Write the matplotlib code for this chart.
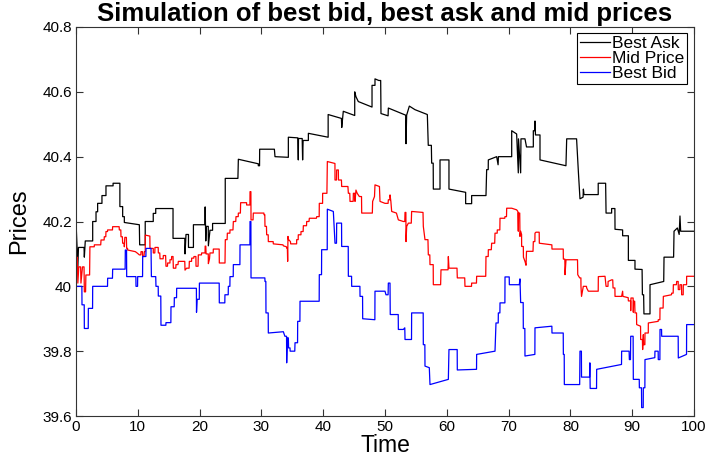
import numpy as np
import matplotlib
matplotlib.use("Agg")
import matplotlib.pyplot as plt
from matplotlib.ticker import FuncFormatter

plt.rcParams["font.family"] = ["Liberation Sans", "DejaVu Sans"]

# (time, price) vertices
best_ask = [
    (0.0, 40.20), (0.3, 40.06), (0.4, 40.12), (1.3, 40.12), (1.35, 40.09), (1.5, 40.14),
    (2.7, 40.14), (2.7, 40.20), (3.24, 40.20), (3.24, 40.23), (3.5, 40.23), (3.5, 40.256),
    (4.2, 40.256), (4.2, 40.28), (4.85, 40.28), (4.85, 40.31), (6.0, 40.31), (6.0, 40.318),
    (7.1, 40.318), (7.1, 40.246), (7.55, 40.246), (7.55, 40.215), (7.82, 40.215), (7.82, 40.197),
    (10.25, 40.19), (10.3, 40.128), (11.2, 40.128), (11.2, 40.20), (12.5, 40.20), (12.5, 40.225),
    (12.9, 40.225), (12.9, 40.24), (15.7, 40.24), (15.7, 40.148), (17.6, 40.148), (17.64, 40.10),
    (17.8, 40.16), (18.2, 40.16), (18.2, 40.12), (19.0, 40.12), (19.0, 40.19), (20.85, 40.19),
    (20.9, 40.245), (21.0, 40.14), (21.1, 40.185), (21.4, 40.185), (21.42, 40.125), (21.68, 40.173),
    (22.1, 40.173), (22.1, 40.194), (24.15, 40.194), (24.15, 40.333), (26.2, 40.333), (26.27, 40.392),
    (29.5, 40.378), (29.5, 40.372), (29.7, 40.372), (29.72, 40.423), (32.1, 40.423), (32.2, 40.40),
    (34.36, 40.398), (34.36, 40.46), (35.9, 40.458), (35.97, 40.39), (36.0, 40.456), (36.6, 40.456),
    (36.67, 40.39), (36.75, 40.45), (37.6, 40.45), (37.6, 40.472), (40.8, 40.46), (40.8, 40.53),
    (42.95, 40.518), (43.0, 40.49), (43.25, 40.54), (45.1, 40.527), (45.1, 40.60), (45.3, 40.585),
    (45.68, 40.57), (47.9, 40.553), (47.9, 40.62), (48.38, 40.62), (48.38, 40.64), (49.0, 40.635),
    (49.3, 40.635), (49.35, 40.533), (50.5, 40.526), (50.54, 40.55), (53.35, 40.528), (53.4, 40.44),
    (53.5, 40.528), (53.94, 40.556), (54.85, 40.545), (56.85, 40.53), (57.0, 40.435), (57.5, 40.435),
    (57.55, 40.38), (57.8, 40.38), (57.82, 40.30), (58.9, 40.30), (58.9, 40.39), (60.35, 40.39),
    (60.35, 40.30), (63.05, 40.29), (63.05, 40.255), (64.02, 40.255), (64.02, 40.28), (66.34, 40.28),
    (66.45, 40.36), (66.7, 40.36), (66.72, 40.39), (68.07, 40.40), (68.3, 40.375), (68.35, 40.40),
    (70.5, 40.40), (70.5, 40.48), (71.3, 40.47), (71.57, 40.35), (71.6, 40.455), (71.95, 40.35),
    (72.0, 40.455), (72.65, 40.455), (72.9, 40.43), (74.0, 40.43), (74.0, 40.48), (74.2, 40.48),
    (74.27, 40.51), (74.35, 40.467), (75.08, 40.467), (75.08, 40.39), (79.28, 40.372), (79.4, 40.455),
    (81.0, 40.455), (81.3, 40.35), (81.55, 40.27), (82.05, 40.275), (82.1, 40.30), (82.2, 40.283),
    (84.5, 40.283), (84.5, 40.318), (85.7, 40.318), (85.77, 40.226), (86.67, 40.226), (86.67, 40.24),
    (87.2, 40.24), (87.22, 40.176), (88.45, 40.174), (88.45, 40.156), (89.38, 40.156), (89.38, 40.08),
    (90.45, 40.08), (90.45, 40.053), (91.6, 40.052), (91.65, 39.974), (91.85, 39.974), (91.9, 39.915),
    (92.88, 39.915), (92.88, 40.005), (95.1, 40.015), (95.15, 40.09), (96.7, 40.09), (96.77, 40.17),
    (97.31, 40.18), (97.6, 40.16), (97.73, 40.217), (97.84, 40.17), (100.0, 40.17),
]

mid_price = [
    (0.0, 40.102), (0.12, 40.04), (0.2, 40.09), (0.3, 40.01), (0.45, 40.06), (0.75, 40.06),
    (0.8, 40.01), (1.05, 40.06), (1.3, 40.06), (1.35, 39.983), (1.55, 39.983), (1.6, 40.035),
    (2.2, 40.035), (2.25, 40.122), (2.95, 40.122), (2.97, 40.128), (4.0, 40.128), (4.05, 40.143),
    (4.55, 40.143), (4.58, 40.153), (4.82, 40.153), (4.85, 40.169), (5.1, 40.169), (5.12, 40.174),
    (5.9, 40.174), (5.93, 40.184), (6.98, 40.184), (7.01, 40.174), (7.25, 40.174), (7.28, 40.153),
    (7.5, 40.153), (7.55, 40.133), (7.8, 40.133), (7.82, 40.122), (7.9, 40.151), (8.15, 40.151),
    (8.2, 40.117), (8.34, 40.117), (8.36, 40.112), (9.6, 40.107), (9.95, 40.102), (10.25, 40.097),
    (10.5, 40.097), (10.52, 40.107), (10.75, 40.107), (10.79, 40.092), (11.0, 40.092), (11.06, 40.107),
    (11.2, 40.107), (11.22, 40.158), (11.95, 40.155), (11.97, 40.117), (12.5, 40.117), (12.51, 40.103),
    (12.75, 40.103), (12.78, 40.12), (13.3, 40.12), (13.32, 40.103), (13.55, 40.103), (13.6, 40.085),
    (14.1, 40.085), (14.13, 40.095), (14.5, 40.095), (14.56, 40.062), (14.8, 40.062), (14.83, 40.072),
    (15.2, 40.072), (15.21, 40.082), (15.45, 40.082), (15.48, 40.092), (15.7, 40.092), (15.75, 40.056),
    (16.15, 40.056), (16.18, 40.067), (16.5, 40.067), (16.56, 40.077), (17.6, 40.077), (17.64, 40.05),
    (17.9, 40.056), (18.3, 40.056), (18.34, 40.077), (18.7, 40.077), (18.72, 40.087), (19.05, 40.087),
    (19.09, 40.092), (19.4, 40.092), (19.42, 40.062), (19.75, 40.062), (19.79, 40.097), (20.3, 40.097),
    (20.33, 40.103), (20.88, 40.103), (20.9, 40.124), (21.0, 40.124), (21.05, 40.10), (21.4, 40.10),
    (21.42, 40.07), (21.6, 40.085), (21.68, 40.103), (22.2, 40.103), (22.22, 40.115), (23.17, 40.115),
    (23.19, 40.072), (24.11, 40.072), (24.16, 40.144), (24.45, 40.144), (24.49, 40.164), (24.9, 40.164),
    (24.92, 40.174), (25.4, 40.174), (25.46, 40.2), (25.85, 40.2), (25.89, 40.215), (26.25, 40.215),
    (26.27, 40.226), (26.6, 40.226), (26.64, 40.258), (27.6, 40.258), (27.61, 40.251), (28.14, 40.251),
    (28.16, 40.292), (28.3, 40.292), (28.32, 40.205), (28.65, 40.205), (28.69, 40.226), (30.4, 40.226),
    (30.42, 40.221), (30.55, 40.221), (30.58, 40.185), (30.82, 40.185), (30.85, 40.159), (31.1, 40.159),
    (31.12, 40.138), (31.9, 40.138), (31.93, 40.131), (33.5, 40.128), (33.55, 40.125), (34.05, 40.122),
    (34.09, 40.118), (34.2, 40.118), (34.25, 40.077), (34.3, 40.154), (34.36, 40.145), (34.7, 40.138),
    (34.74, 40.131), (35.7, 40.131), (35.71, 40.144), (35.95, 40.144), (35.97, 40.159), (36.4, 40.159),
    (36.41, 40.169), (36.75, 40.169), (36.79, 40.187), (37.3, 40.187), (37.33, 40.2), (37.7, 40.2),
    (37.76, 40.21), (38.9, 40.21), (38.95, 40.215), (39.35, 40.215), (39.37, 40.256), (39.9, 40.256),
    (39.91, 40.287), (40.6, 40.287), (40.67, 40.385), (41.9, 40.379), (41.91, 40.328), (42.15, 40.328),
    (42.18, 40.359), (42.45, 40.359), (42.47, 40.328), (42.95, 40.328), (42.99, 40.308), (44.0, 40.308),
    (44.07, 40.287), (44.3, 40.287), (44.34, 40.262), (44.85, 40.262), (44.88, 40.287), (45.1, 40.287),
    (45.15, 40.262), (45.3, 40.297), (45.5, 40.287), (45.85, 40.277), (46.2, 40.277), (46.23, 40.226),
    (47.95, 40.226), (48.0, 40.262), (48.3, 40.277), (48.38, 40.313), (49.1, 40.308), (49.19, 40.262),
    (50.0, 40.256), (50.5, 40.256), (50.54, 40.267), (50.8, 40.267), (50.81, 40.282), (50.95, 40.262),
    (51.08, 40.231), (51.85, 40.226), (52.16, 40.205), (52.97, 40.2), (53.2, 40.2), (53.24, 40.228),
    (53.38, 40.228), (53.4, 40.138), (53.51, 40.185), (53.78, 40.195), (54.25, 40.195), (54.31, 40.231),
    (56.15, 40.228), (56.2, 40.185), (56.47, 40.144), (56.95, 40.144), (57.01, 40.097), (57.25, 40.097),
    (57.28, 40.067), (57.8, 40.067), (57.82, 40.005), (59.0, 40.005), (59.06, 40.051), (60.2, 40.051),
    (60.25, 40.092), (60.35, 40.056), (61.65, 40.056), (61.7, 40.026), (62.9, 40.026), (62.94, 40.0),
    (64.0, 40.0), (64.02, 40.01), (64.8, 40.01), (64.83, 40.031), (66.3, 40.031), (66.34, 40.092),
    (66.7, 40.092), (66.72, 40.113), (67.2, 40.113), (67.26, 40.133), (67.75, 40.133), (67.8, 40.164),
    (68.15, 40.164), (68.17, 40.174), (68.58, 40.174), (68.61, 40.21), (69.38, 40.21), (69.41, 40.215),
    (69.66, 40.215), (69.69, 40.241), (70.5, 40.241), (71.3, 40.236), (71.5, 40.231), (71.57, 40.17),
    (71.6, 40.226), (71.8, 40.226), (71.84, 40.154), (71.95, 40.17), (72.1, 40.16), (72.11, 40.123),
    (72.38, 40.123), (72.4, 40.09), (72.65, 40.077), (72.82, 40.065), (72.9, 40.108), (73.95, 40.108),
    (74.0, 40.138), (74.25, 40.138), (74.27, 40.164), (74.43, 40.167), (74.95, 40.167), (74.97, 40.133),
    (77.0, 40.128), (77.02, 40.115), (78.84, 40.115), (78.86, 40.084), (79.1, 40.084), (79.13, 40.036),
    (79.29, 40.082), (81.15, 40.082), (81.19, 40.036), (81.5, 40.026), (81.7, 40.026), (81.71, 40.0),
    (81.8, 39.969), (82.09, 40.0), (82.6, 40.0), (82.63, 39.995), (82.9, 39.985), (84.5, 39.985),
    (84.52, 40.03), (85.6, 40.031), (85.77, 40.0), (86.08, 40.0), (86.1, 40.015), (86.67, 40.02),
    (86.85, 40.02), (86.9, 39.995), (87.2, 39.995), (87.22, 39.969), (88.29, 39.969), (88.45, 39.985),
    (88.5, 39.969), (89.35, 39.965), (89.38, 39.955), (89.74, 39.955), (89.76, 39.925), (89.8, 39.964),
    (90.15, 39.964), (90.18, 39.92), (90.22, 39.954), (90.4, 39.954), (90.45, 39.918), (90.7, 39.918),
    (90.72, 39.882), (91.35, 39.877), (91.37, 39.836), (91.65, 39.836), (91.69, 39.805), (91.8, 39.851),
    (91.85, 39.82), (92.05, 39.82), (92.07, 39.856), (92.6, 39.856), (92.61, 39.887), (94.2, 39.892),
    (94.22, 39.897), (94.48, 39.897), (94.5, 39.933), (95.0, 39.933), (95.04, 39.969), (96.35, 39.974),
    (96.39, 39.979), (96.63, 39.979), (96.66, 40.005), (97.15, 40.005), (97.2, 40.015), (97.44, 40.015),
    (97.46, 39.99), (97.7, 39.99), (97.73, 40.005), (97.98, 40.005), (98.0, 39.974), (98.25, 39.974),
    (98.27, 40.005), (98.8, 40.005), (98.81, 40.031), (100.0, 40.031),
]

best_bid = [
    (0.0, 40.0), (0.95, 40.0), (0.97, 39.943), (1.33, 39.943), (1.35, 39.87), (1.98, 39.87),
    (2.0, 39.932), (2.68, 39.932), (2.7, 40.0), (5.1, 40.0), (5.12, 40.025), (5.9, 40.025),
    (5.93, 40.053), (7.95, 40.053), (7.98, 40.112), (8.18, 40.112), (8.2, 40.03), (9.69, 40.03),
    (9.71, 40.0), (9.96, 40.0), (9.98, 40.03), (10.77, 40.03), (10.79, 40.092), (11.31, 40.092),
    (11.33, 40.117), (12.14, 40.117), (12.2, 40.03), (12.9, 40.03), (12.94, 40.0), (13.3, 40.0),
    (13.32, 39.97), (13.72, 39.97), (13.75, 39.88), (14.54, 39.88), (14.56, 39.888), (15.35, 39.888),
    (15.37, 39.937), (15.89, 39.937), (15.91, 39.965), (16.27, 39.965), (16.29, 39.994), (19.48, 39.994),
    (19.5, 39.92), (19.6, 39.96), (19.95, 39.96), (19.97, 40.01), (23.17, 40.01), (23.19, 39.949),
    (24.08, 39.949), (24.1, 39.974), (24.63, 39.974), (24.65, 40.0), (24.9, 40.0), (24.92, 40.03),
    (25.44, 40.03), (25.46, 40.067), (26.52, 40.067), (26.54, 40.128), (28.14, 40.128), (28.16, 40.2),
    (28.3, 40.2), (28.32, 40.026), (30.56, 40.026), (30.58, 40.015), (30.72, 40.015), (30.74, 39.918),
    (31.1, 39.918), (31.12, 39.856), (33.55, 39.86), (33.8, 39.846), (34.07, 39.846), (34.09, 39.764),
    (34.2, 39.841), (34.36, 39.841), (34.4, 39.81), (34.63, 39.81), (34.65, 39.80), (35.4, 39.80),
    (35.44, 39.826), (35.85, 39.826), (35.87, 39.892), (36.23, 39.892), (36.25, 39.954), (39.35, 39.954),
    (39.37, 40.036), (39.73, 40.036), (39.75, 40.113), (40.65, 40.113), (40.67, 40.238), (41.64, 40.231),
    (41.91, 40.133), (42.15, 40.133), (42.18, 40.195), (42.97, 40.195), (42.99, 40.123), (44.05, 40.123),
    (44.07, 40.031), (44.59, 40.031), (44.61, 40.0), (45.94, 40.0), (45.96, 39.969), (46.37, 39.969),
    (46.39, 39.90), (48.36, 39.897), (48.38, 39.985), (50.0, 39.985), (50.16, 39.974), (50.5, 39.974),
    (50.54, 40.01), (50.81, 40.01), (50.85, 39.913), (52.14, 39.913), (52.16, 39.867), (52.97, 39.867),
    (53.2, 39.872), (53.24, 39.836), (54.29, 39.836), (54.31, 39.918), (56.18, 39.918), (56.2, 39.82),
    (56.45, 39.82), (56.47, 39.754), (57.17, 39.749), (57.28, 39.697), (60.25, 39.713), (60.35, 39.805),
    (61.68, 39.805), (61.7, 39.742), (64.81, 39.744), (64.83, 39.79), (67.8, 39.80), (67.96, 39.887),
    (68.32, 39.887), (68.34, 39.918), (68.59, 39.918), (68.61, 39.949), (69.4, 39.949), (69.42, 40.029),
    (70.1, 40.029), (70.12, 40.005), (71.73, 40.005), (71.84, 40.023), (71.95, 39.95), (72.36, 39.95),
    (72.38, 39.87), (72.63, 39.87), (72.65, 39.785), (74.25, 39.79), (74.27, 39.872), (77.0, 39.877),
    (77.02, 39.856), (78.84, 39.856), (78.86, 39.79), (79.0, 39.79), (79.02, 39.697), (81.5, 39.697),
    (81.55, 39.8), (81.78, 39.8), (81.8, 39.72), (83.1, 39.72), (83.15, 39.764), (83.2, 39.685),
    (84.23, 39.685), (84.25, 39.744), (88.27, 39.759), (88.29, 39.8), (89.5, 39.8), (89.54, 39.774),
    (89.72, 39.774), (89.76, 39.846), (90.15, 39.846), (90.18, 39.713), (91.14, 39.713), (91.16, 39.687),
    (91.5, 39.687), (91.53, 39.626), (91.78, 39.626), (91.8, 39.687), (92.05, 39.687), (92.07, 39.774),
    (93.66, 39.78), (93.68, 39.80), (94.2, 39.80), (94.22, 39.774), (94.48, 39.774), (94.5, 39.867),
    (94.75, 39.867), (94.77, 39.846), (97.44, 39.846), (97.46, 39.779), (98.79, 39.79), (98.81, 39.882),
    (100.0, 39.882),
]

series = [
    ("Best Ask", best_ask, "black"),
    ("Mid Price", mid_price, "red"),
    ("Best Bid", best_bid, "blue"),
]

fig = plt.figure(figsize=(7.07, 4.58), dpi=100)
ax = fig.add_axes([76 / 707, 42 / 458, 618 / 707, 389 / 458])

for label, pts, color in series:
    t, p = np.array(pts).T
    ax.plot(t, p, color=color, lw=0.9, label=label)

ax.set_xlim(0, 100)
ax.set_ylim(39.6, 40.8)
ax.set_xticks(np.arange(0, 101, 10))
ax.set_yticks(np.arange(39.6, 40.81, 0.2))
ax.yaxis.set_major_formatter(FuncFormatter(lambda v, _: f"{v:g}"))

ax.tick_params(direction="in", top=True, right=True, length=5, width=0.8,
               labelsize=11, pad=3, color="#333333")
for s in ax.spines.values():
    s.set_color("#333333")
    s.set_linewidth(0.8)

ax.set_title("Simulation of best bid, best ask and mid prices",
             fontsize=18.5, fontweight="bold", pad=4)
ax.set_xlabel("Time", fontsize=16.5, labelpad=0)
ax.set_ylabel("Prices", fontsize=17, labelpad=9)

leg = ax.legend(loc="upper right", bbox_to_anchor=(0.9887, 0.9846), borderaxespad=0,
                fontsize=12.5, fancybox=False, edgecolor="black", framealpha=1,
                handlelength=1.7, handletextpad=0.15, borderpad=0.15, labelspacing=0.0)
leg.get_frame().set_linewidth(0.8)

fig.savefig("out.png", dpi=100)
